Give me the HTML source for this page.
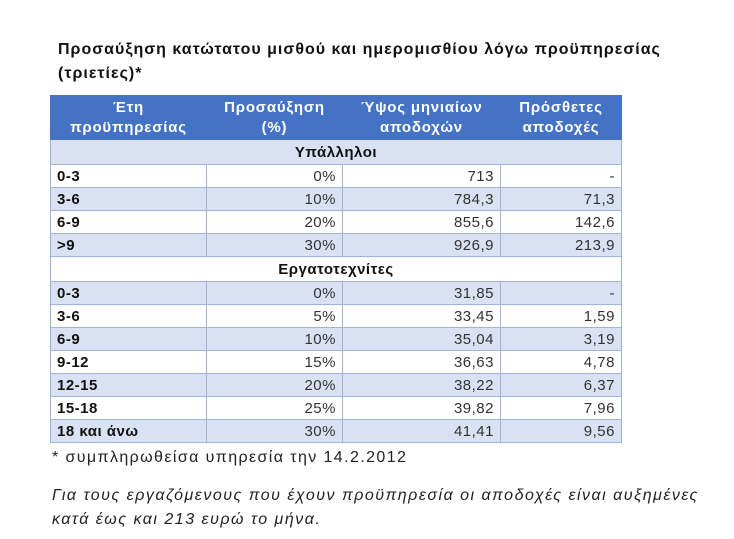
<!DOCTYPE html>
<html><head><meta charset="utf-8"><style>
body{margin:0;background:#fff;width:734px;height:539px;overflow:hidden;font-family:"Liberation Sans","DejaVu Sans",sans-serif;color:#111;position:relative}
.t{position:absolute;left:58px;top:38px;font-weight:bold;font-size:16px;line-height:24px;width:630px;letter-spacing:1px}
table{position:absolute;left:50px;top:95px;border-collapse:collapse;width:572px;font-size:15px;letter-spacing:0.5px}
td,th{border:1px solid #9db4e0;padding:0 6px;height:22px}
th{background:#4472c4;color:#fff;font-weight:bold;height:43px;line-height:20px;border-color:#4472c4;font-size:15px;letter-spacing:0.8px}
td{text-align:right;color:#333}
td:first-child{text-align:left;font-weight:bold;color:#111}
.b td{background:#d9e1f2}
.s td{text-align:center;font-weight:bold;color:#111;height:24px}
.f{position:absolute;left:58px;font-size:16px;color:#222}
</style></head><body>
<div class="t">Προσαύξηση κατώτατου μισθού και ημερομισθίου λόγω προϋπηρεσίας (τριετίες)*</div>
<table>
<tr><th style="width:143px">Έτη<br>προϋπηρεσίας</th><th style="width:123px">Προσαύξηση<br>(%)</th><th style="width:145px">Ύψος μηνιαίων<br>αποδοχών</th><th>Πρόσθετες<br>αποδοχές</th></tr>
<tr class="b s"><td colspan="4" style="text-align:center">Υπάλληλοι</td></tr>
<tr><td>0-3</td><td>0%</td><td>713</td><td>-</td></tr>
<tr class="b"><td>3-6</td><td>10%</td><td>784,3</td><td>71,3</td></tr>
<tr><td>6-9</td><td>20%</td><td>855,6</td><td>142,6</td></tr>
<tr class="b"><td>&gt;9</td><td>30%</td><td>926,9</td><td>213,9</td></tr>
<tr class="s"><td colspan="4" style="text-align:center">Εργατοτεχνίτες</td></tr>
<tr class="b"><td>0-3</td><td>0%</td><td>31,85</td><td>-</td></tr>
<tr><td>3-6</td><td>5%</td><td>33,45</td><td>1,59</td></tr>
<tr class="b"><td>6-9</td><td>10%</td><td>35,04</td><td>3,19</td></tr>
<tr><td>9-12</td><td>15%</td><td>36,63</td><td>4,78</td></tr>
<tr class="b"><td>12-15</td><td>20%</td><td>38,22</td><td>6,37</td></tr>
<tr><td>15-18</td><td>25%</td><td>39,82</td><td>7,96</td></tr>
<tr class="b"><td>18 και άνω</td><td>30%</td><td>41,41</td><td>9,56</td></tr>
</table>
<div class="f" style="top:449px;left:52px;letter-spacing:1.4px">* συμπληρωθείσα υπηρεσία την 14.2.2012</div>
<div class="f" style="top:484px;left:52px;font-style:italic;line-height:24px;width:690px;letter-spacing:1.5px">Για τους εργαζόμενους που έχουν προϋπηρεσία οι αποδοχές είναι αυξημένες<br>κατά έως και 213 ευρώ το μήνα.</div>
</body></html>
